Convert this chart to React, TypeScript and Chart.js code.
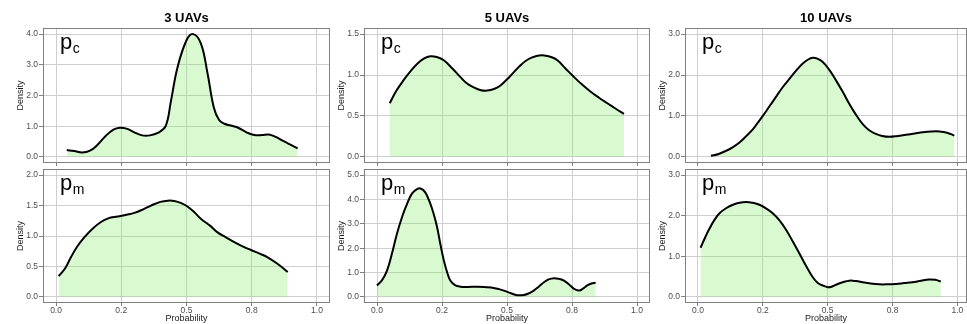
import React, { useEffect, useRef } from 'react';
import { Chart, registerables } from 'chart.js';

Chart.register(...registerables);

// ---------------- DATA ----------------
const columnTitles = ['3 UAVs', '5 UAVs', '10 UAVs'];
const rowSymbols = ['p', 'p'];
const rowSubscripts = ['c', 'm'];

const xTicks = [0, 0.25, 0.5, 0.75, 1];
const xTickLabels = ['0.0', '0.2', '0.5', '0.8', '1.0'];

// 3 UAVs, p_c
const pc3X = [0.041, 0.07, 0.1, 0.13, 0.16, 0.19, 0.22, 0.245, 0.27, 0.3, 0.33, 0.36, 0.39, 0.42, 0.44, 0.465, 0.5, 0.525, 0.555, 0.58, 0.605, 0.625, 0.645, 0.67, 0.7, 0.73, 0.76, 0.79, 0.815, 0.84, 0.87, 0.9, 0.926];
const pc3Y = [0.22, 0.19, 0.14, 0.2, 0.4, 0.68, 0.89, 0.95, 0.92, 0.8, 0.7, 0.7, 0.78, 1.0, 1.8, 2.9, 3.8, 4.0, 3.7, 2.75, 1.6, 1.2, 1.08, 1.02, 0.94, 0.8, 0.71, 0.71, 0.73, 0.66, 0.52, 0.39, 0.28];
const pc3Ticks = [0, 1, 2, 3, 4];
const pc3TickLabels = ['0.0', '1.0', '2.0', '3.0', '4.0'];

// 3 UAVs, p_m
const pm3X = [0.01, 0.035, 0.057, 0.08, 0.109, 0.14, 0.172, 0.2, 0.236, 0.27, 0.3, 0.33, 0.364, 0.4, 0.428, 0.453, 0.48, 0.505, 0.53, 0.556, 0.59, 0.619, 0.65, 0.683, 0.715, 0.747, 0.78, 0.811, 0.85, 0.888];
const pm3Y = [0.34, 0.47, 0.65, 0.82, 0.98, 1.12, 1.23, 1.29, 1.32, 1.35, 1.38, 1.43, 1.5, 1.56, 1.58, 1.575, 1.54, 1.48, 1.39, 1.28, 1.17, 1.06, 0.98, 0.9, 0.83, 0.77, 0.71, 0.65, 0.54, 0.41];
const pm3Ticks = [0, 0.5, 1, 1.5, 2];
const pm3TickLabels = ['0.0', '0.5', '1.0', '1.5', '2.0'];

// 5 UAVs, p_c
const pc5X = [0.049, 0.075, 0.103, 0.13, 0.154, 0.18, 0.205, 0.23, 0.257, 0.29, 0.321, 0.345, 0.372, 0.4, 0.424, 0.45, 0.475, 0.51, 0.552, 0.58, 0.61, 0.642, 0.67, 0.694, 0.725, 0.758, 0.79, 0.822, 0.855, 0.886, 0.92, 0.95];
const pc5Y = [0.656, 0.81, 0.94, 1.05, 1.135, 1.2, 1.23, 1.22, 1.18, 1.08, 0.975, 0.9, 0.85, 0.815, 0.81, 0.83, 0.873, 0.98, 1.12, 1.19, 1.23, 1.24, 1.22, 1.18, 1.08, 0.975, 0.88, 0.795, 0.72, 0.655, 0.585, 0.525];
const pc5Ticks = [0, 0.5, 1, 1.5];
const pc5TickLabels = ['0.0', '0.5', '1.0', '1.5'];

// 5 UAVs, p_m
const pm5X = [0.0, 0.02, 0.0385, 0.058, 0.077, 0.097, 0.116, 0.135, 0.154, 0.167, 0.185, 0.205, 0.218, 0.231, 0.244, 0.257, 0.27, 0.282, 0.3, 0.321, 0.35, 0.385, 0.42, 0.449, 0.47, 0.488, 0.515, 0.539, 0.565, 0.585, 0.603, 0.622, 0.642, 0.66, 0.681, 0.7, 0.719, 0.74, 0.758, 0.777, 0.795, 0.809, 0.825, 0.841];
const pm5Y = [0.47, 0.7, 1.08, 1.8, 2.6, 3.3, 3.83, 4.25, 4.42, 4.45, 4.3, 3.83, 3.4, 2.87, 2.15, 1.5, 1.0, 0.67, 0.48, 0.42, 0.41, 0.42, 0.4, 0.37, 0.32, 0.26, 0.15, 0.07, 0.08, 0.15, 0.26, 0.42, 0.6, 0.72, 0.77, 0.74, 0.67, 0.5, 0.33, 0.26, 0.36, 0.47, 0.55, 0.58];
const pm5Ticks = [0, 1, 2, 3, 4, 5];
const pm5TickLabels = ['0.0', '1.0', '2.0', '3.0', '4.0', '5.0'];

// 10 UAVs, p_c
const pc10X = [0.05, 0.08, 0.109, 0.135, 0.16, 0.185, 0.212, 0.23, 0.25, 0.275, 0.3, 0.325, 0.353, 0.38, 0.404, 0.425, 0.442, 0.46, 0.481, 0.505, 0.532, 0.558, 0.583, 0.61, 0.635, 0.66, 0.686, 0.71, 0.738, 0.77, 0.802, 0.835, 0.866, 0.9, 0.931, 0.96, 0.988];
const pc10Y = [0.025, 0.07, 0.15, 0.24, 0.35, 0.5, 0.68, 0.83, 1.0, 1.23, 1.46, 1.69, 1.91, 2.12, 2.28, 2.38, 2.42, 2.4, 2.32, 2.14, 1.87, 1.59, 1.3, 1.02, 0.8, 0.65, 0.56, 0.51, 0.49, 0.51, 0.54, 0.57, 0.6, 0.62, 0.62, 0.59, 0.52];
const pc10Ticks = [0, 1, 2, 3];
const pc10TickLabels = ['0.0', '1.0', '2.0', '3.0'];

// 10 UAVs, p_m
const pm10X = [0.01, 0.028, 0.045, 0.063, 0.083, 0.11, 0.135, 0.16, 0.186, 0.21, 0.237, 0.262, 0.288, 0.315, 0.34, 0.365, 0.391, 0.417, 0.442, 0.462, 0.481, 0.5, 0.515, 0.532, 0.558, 0.583, 0.61, 0.635, 0.665, 0.699, 0.73, 0.763, 0.795, 0.827, 0.86, 0.891, 0.915, 0.936];
const pm10Y = [1.21, 1.47, 1.69, 1.89, 2.06, 2.19, 2.27, 2.32, 2.34, 2.32, 2.27, 2.18, 2.06, 1.88, 1.65, 1.37, 1.07, 0.76, 0.49, 0.34, 0.28, 0.24, 0.25, 0.3, 0.36, 0.4, 0.39, 0.36, 0.33, 0.31, 0.31, 0.32, 0.34, 0.36, 0.4, 0.43, 0.42, 0.38];
const pm10Ticks = [0, 1, 2, 3];
const pm10TickLabels = ['0.0', '1.0', '2.0', '3.0'];

// ---------------- STYLE / LAYOUT ----------------
const FONT = '"Liberation Sans", Arial, Helvetica, sans-serif';
const FRAME = '#808080';
const GRID = '#cfcfcf';
const FILL = 'rgba(130,240,100,0.3)';

const cols = [
  { L: 43, R: 330, xMax: 1.05, cw: 340 },
  { L: 364, R: 650, xMax: 1.05, cw: 340 },
  { L: 685, R: 967, xMax: 1.037, cw: 325 },
];
const rows = [
  { T: 28, B: 163, top: 0, bottom: 175 },
  { T: 169, B: 303, top: 155, bottom: 324 },
];

type PanelSpec = {
  col: number;
  row: number;
  xs: number[];
  ys: number[];
  yTicks: number[];
  yLabels: string[];
};

const panels: PanelSpec[] = [
  { col: 0, row: 0, xs: pc3X, ys: pc3Y, yTicks: pc3Ticks, yLabels: pc3TickLabels },
  { col: 0, row: 1, xs: pm3X, ys: pm3Y, yTicks: pm3Ticks, yLabels: pm3TickLabels },
  { col: 1, row: 0, xs: pc5X, ys: pc5Y, yTicks: pc5Ticks, yLabels: pc5TickLabels },
  { col: 1, row: 1, xs: pm5X, ys: pm5Y, yTicks: pm5Ticks, yLabels: pm5TickLabels },
  { col: 2, row: 0, xs: pc10X, ys: pc10Y, yTicks: pc10Ticks, yLabels: pc10TickLabels },
  { col: 2, row: 1, xs: pm10X, ys: pm10Y, yTicks: pm10Ticks, yLabels: pm10TickLabels },
];

const panelDecor = {
  id: 'panelDecor',
  afterDraw(chart: any, _args: any, opts: any) {
    const { ctx, chartArea } = chart;
    const { left, top, right, bottom } = chartArea;
    ctx.save();
    ctx.strokeStyle = FRAME;
    ctx.lineWidth = 1;
    ctx.strokeRect(left + 0.5, top + 0.5, right - left - 1, bottom - top - 1);
    ctx.fillStyle = '#000';
    ctx.textAlign = 'left';
    ctx.textBaseline = 'alphabetic';
    ctx.font = `22px ${FONT}`;
    const x = left + 17;
    const y = top + 21;
    ctx.fillText(opts.main, x, y);
    const w = ctx.measureText(opts.main).width;
    ctx.font = `14px ${FONT}`;
    ctx.fillText(opts.sub, x + w + 0.5, y + 4);
    ctx.restore();
  },
};

function Panel({ spec }: { spec: PanelSpec }) {
  const ref = useRef<HTMLCanvasElement>(null);
  const c = cols[spec.col];
  const r = rows[spec.row];
  const canvasLeft = c.L - 43;
  const cw = c.cw;
  const ch = r.bottom - r.top;
  const padRight = cw - (c.R - canvasLeft);
  const isTop = spec.row === 0;

  useEffect(() => {
    if (!ref.current) return;
    const data = spec.xs.map((x, i) => ({ x, y: spec.ys[i] }));
    const yMaxTick = spec.yTicks[spec.yTicks.length - 1];
    const yPad = yMaxTick * 0.05;
    const chart = new Chart(ref.current, {
      type: 'line',
      data: {
        datasets: [
          {
            data,
            borderColor: '#000',
            borderWidth: 2,
            pointRadius: 0,
            tension: 0.4,
            fill: 'origin',
            backgroundColor: FILL,
          },
        ],
      },
      options: {
        animation: false,
        responsive: false,
        maintainAspectRatio: false,
        events: [],
        layout: {
          padding: { top: isTop ? 0 : r.T - r.top, right: padRight, left: 0, bottom: 0 },
        },
        plugins: {
          legend: { display: false },
          tooltip: { enabled: false },
          title: {
            display: isTop,
            text: columnTitles[spec.col],
            fullSize: false,
            color: '#000',
            font: { family: FONT, size: 13, weight: 'bold', lineHeight: 1.2 },
            padding: { top: 10.7, bottom: 28 - 10.7 - 15.6 },
          },
          panelDecor: { main: rowSymbols[spec.row], sub: rowSubscripts[spec.row] },
        } as any,
        scales: {
          x: {
            type: 'linear',
            min: -0.05,
            max: c.xMax,
            afterBuildTicks: (s: any) => {
              s.ticks = xTicks.map((v) => ({ value: v }));
            },
            afterFit: (s: any) => {
              s.height = ch - (r.B - r.top);
            },
            ticks: {
              display: !isTop,
              autoSkip: false,
              maxRotation: 0,
              padding: 0,
              color: '#4d4d4d',
              font: { family: FONT, size: 8.5, lineHeight: 1 },
              callback: (v: any) => xTickLabels[xTicks.indexOf(Number(v))] ?? '',
            },
            grid: { color: GRID, tickColor: FRAME, tickLength: 3, lineWidth: 1 },
            border: { display: false },
            title: {
              display: !isTop,
              text: 'Probability',
              color: '#1a1a1a',
              font: { family: FONT, size: 9, lineHeight: 1.2 },
              padding: { top: 0, bottom: 0 },
            },
          },
          y: {
            type: 'linear',
            min: -yPad,
            max: yMaxTick + yPad,
            afterBuildTicks: (s: any) => {
              s.ticks = spec.yTicks.map((v) => ({ value: v }));
            },
            afterFit: (s: any) => {
              s.width = 43;
            },
            ticks: {
              autoSkip: false,
              padding: 1,
              color: '#4d4d4d',
              font: { family: FONT, size: 8.5, lineHeight: 1 },
              callback: (v: any) => spec.yLabels[spec.yTicks.indexOf(Number(v))] ?? '',
            },
            grid: { color: GRID, tickColor: FRAME, tickLength: 4, lineWidth: 1 },
            border: { display: false },
            title: {
              display: true,
              text: 'Density',
              color: '#1a1a1a',
              font: { family: FONT, size: 9, lineHeight: 1.2 },
              padding: { top: 15.6, bottom: 0 },
            },
          },
        },
      },
      plugins: [panelDecor],
    } as any);
    return () => chart.destroy();
  }, []);

  return (
    <canvas
      ref={ref}
      width={cw}
      height={ch}
      style={{ position: 'absolute', left: canvasLeft, top: r.top, width: cw, height: ch }}
    />
  );
}

export default function App() {
  return (
    <div
      style={{
        position: 'absolute',
        left: 0,
        top: 0,
        width: 967,
        height: 324,
        overflow: 'hidden',
        background: '#fff',
      }}
    >
      {panels.map((p, i) => (
        <Panel key={i} spec={p} />
      ))}
    </div>
  );
}
